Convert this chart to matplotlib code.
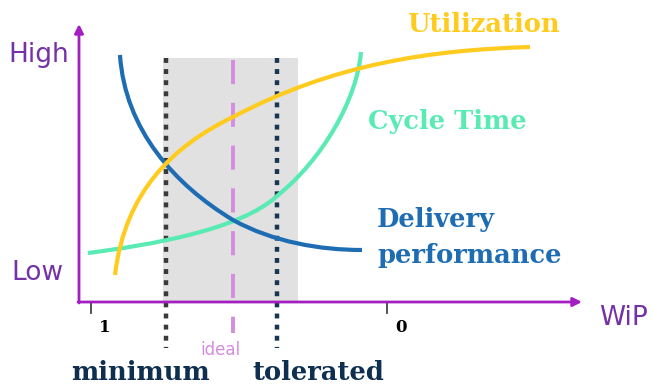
import matplotlib
matplotlib.use("Agg")
import matplotlib.pyplot as plt
from matplotlib.path import Path
from matplotlib.patches import PathPatch

# diagram units: x grows with WiP (left to right), y grows downward like the picture
# each curve = two cubic bezier pieces: start, ctrl, ctrl, join, ctrl, ctrl, end
util_pts = [(115, 275), (125, 190), (175, 145), (233, 117), (333, 64), (430, 50), (530, 47)]
cycle_pts = [(88, 253), (150, 245), (240, 230), (277, 196), (322, 160), (357, 100), (361, 52)]
deliv_pts = [(120, 55), (125, 130), (175, 185), (233, 220), (273, 242), (320, 250), (362, 250)]

band = (163, 298)          # shaded acceptable WiP range
minimum_x, ideal_x, tolerated_x = 166, 233, 277
tick_x = [91, 387]
tick_labels = ["1", "0"]

purple = "#a41fc2"
purple_txt = "#7532a8"
navy = "#0e2f4f"
yellow = "#ffcb1f"
teal = "#5aeab4"
blue = "#1e6db3"

fig = plt.figure(figsize=(6.53, 3.88), dpi=100)
ax = fig.add_axes([0, 0, 1, 1])
ax.set_xlim(0, 653)
ax.set_ylim(388, 0)
ax.axis("off")

ax.fill_between(band, 58, 302, color="#e1e1e1", lw=0, zorder=1)

ax.plot([minimum_x, minimum_x], [58, 348], color="#3a3a3a", lw=3.2,
        linestyle=(0, (1.1, 1.4)), dash_capstyle="butt", zorder=2)
ax.plot([tolerated_x, tolerated_x], [58, 348], color="#163652", lw=3.2,
        linestyle=(0, (1.1, 1.4)), dash_capstyle="butt", zorder=2)
ax.plot([ideal_x, ideal_x], [60, 333], color="#d48ddf", lw=2.8,
        linestyle=(0, (6.2, 4.8)), dash_capstyle="butt", zorder=2)


def curve(pts, color, z):
    codes = [Path.MOVETO] + [Path.CURVE4] * (len(pts) - 1)
    ax.add_patch(PathPatch(Path(pts, codes), fill=False, edgecolor=color,
                           lw=3, capstyle="butt", zorder=z))


curve(cycle_pts, teal, 3)
curve(deliv_pts, blue, 3)
curve(util_pts, yellow, 4)

# axes with arrow heads
ax.annotate("", xy=(79, 24), xytext=(79, 303),
            arrowprops=dict(arrowstyle="-|>", color=purple, lw=2, mutation_scale=13, shrinkA=0, shrinkB=0))
ax.annotate("", xy=(582, 302), xytext=(78, 302),
            arrowprops=dict(arrowstyle="-|>", color=purple, lw=2, mutation_scale=13, shrinkA=0, shrinkB=0))
for tx, lab in zip(tick_x, tick_labels):
    ax.plot([tx, tx], [303, 313], color="#444444", lw=1.3)
    ax.text(tx + 14, 327, lab, ha="center", va="center", fontsize=12,
            fontweight="bold", family="DejaVu Serif", color="black")

sans = "DejaVu Sans"
serif = "DejaVu Serif"
ax.text(39, 55, "High", ha="center", va="center", fontsize=19, family=sans, color=purple_txt)
ax.text(37, 273, "Low", ha="center", va="center", fontsize=19, family=sans, color=purple_txt)
ax.text(624, 318, "WiP", ha="center", va="center", fontsize=19, family=sans, color=purple_txt)
ax.text(220, 350, "ideal", ha="center", va="center", fontsize=12, family=sans, color="#d48ddf")

kw = dict(fontsize=18.5, family=serif, fontweight="bold")
ax.text(483, 24, "Utilization", ha="center", va="center", color=yellow, **kw)
ax.text(447, 122, "Cycle Time", ha="center", va="center", color=teal, **kw)
ax.text(377, 219, "Delivery", ha="left", va="center", color=blue, **kw)
ax.text(377, 256, "performance", ha="left", va="center", color=blue, **kw)
ax.text(140, 372, "minimum", ha="center", va="center", color=navy, **kw)
ax.text(318, 372, "tolerated", ha="center", va="center", color=navy, **kw)

fig.savefig("out.png", dpi=100)
